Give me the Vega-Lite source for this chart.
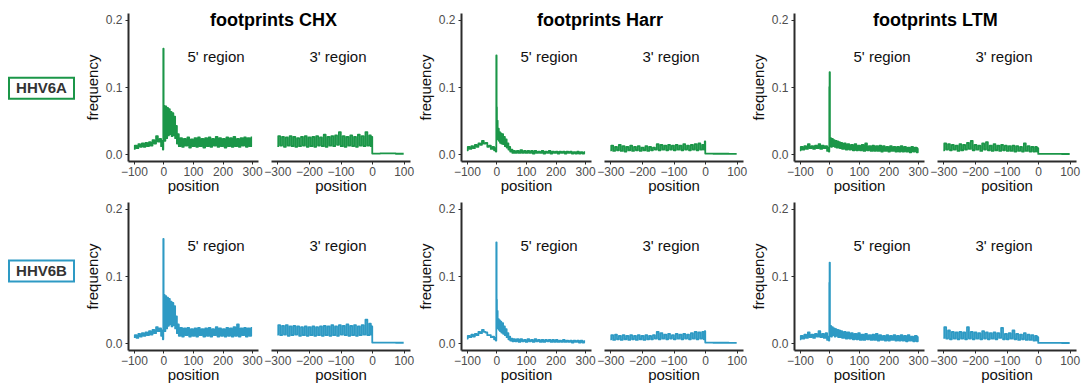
{
"$schema":"https://vega.github.io/schema/vega-lite/v6.json",
"padding":{"left":8,"top":12,"right":4,"bottom":4},
"background":"white",
"datasets":{
"aC5":[{"p":-100,"f":0.008},{"p":-94,"f":0.013},{"p":-88,"f":0.009},{"p":-82,"f":0.015},{"p":-76,"f":0.011},{"p":-70,"f":0.016},{"p":-64,"f":0.011},{"p":-58,"f":0.017},{"p":-52,"f":0.012},{"p":-46,"f":0.018},{"p":-40,"f":0.013},{"p":-34,"f":0.021},{"p":-28,"f":0.016},{"p":-22,"f":0.027},{"p":-16,"f":0.019},{"p":-10,"f":0.023},{"p":-6,"f":0.012},{"p":-3,"f":0.02},{"p":-1,"f":0.007},{"p":0,"f":0.157},{"p":1,"f":0.03},{"p":3,"f":0.072},{"p":5,"f":0.02},{"p":8,"f":0.071},{"p":11,"f":0.024},{"p":14,"f":0.069},{"p":17,"f":0.028},{"p":20,"f":0.067},{"p":23,"f":0.03},{"p":26,"f":0.063},{"p":29,"f":0.027},{"p":32,"f":0.061},{"p":35,"f":0.028},{"p":38,"f":0.056},{"p":41,"f":0.024},{"p":44,"f":0.042},{"p":47,"f":0.016},{"p":50,"f":0.03},{"p":54,"f":0.012},{"p":60,"f":0.024},{"p":66,"f":0.011},{"p":72,"f":0.023},{"p":78,"f":0.013},{"p":84,"f":0.025},{"p":90,"f":0.01},{"p":96,"f":0.022},{"p":102,"f":0.012},{"p":108,"f":0.024},{"p":114,"f":0.011},{"p":120,"f":0.025},{"p":126,"f":0.012},{"p":132,"f":0.023},{"p":138,"f":0.01},{"p":144,"f":0.024},{"p":150,"f":0.012},{"p":156,"f":0.025},{"p":162,"f":0.011},{"p":168,"f":0.023},{"p":174,"f":0.013},{"p":180,"f":0.026},{"p":186,"f":0.011},{"p":192,"f":0.024},{"p":198,"f":0.012},{"p":204,"f":0.023},{"p":210,"f":0.01},{"p":216,"f":0.025},{"p":222,"f":0.012},{"p":228,"f":0.024},{"p":234,"f":0.011},{"p":240,"f":0.026},{"p":246,"f":0.012},{"p":252,"f":0.023},{"p":258,"f":0.011},{"p":264,"f":0.024},{"p":270,"f":0.013},{"p":276,"f":0.025},{"p":282,"f":0.011},{"p":288,"f":0.024},{"p":294,"f":0.012},{"p":300,"f":0.025}],
"bC5":[{"p":-100,"f":0.009},{"p":-94,"f":0.012},{"p":-88,"f":0.008},{"p":-82,"f":0.014},{"p":-76,"f":0.01},{"p":-70,"f":0.015},{"p":-64,"f":0.011},{"p":-58,"f":0.016},{"p":-52,"f":0.012},{"p":-46,"f":0.018},{"p":-40,"f":0.013},{"p":-34,"f":0.02},{"p":-28,"f":0.015},{"p":-22,"f":0.024},{"p":-16,"f":0.018},{"p":-10,"f":0.022},{"p":-6,"f":0.011},{"p":-3,"f":0.019},{"p":-1,"f":0.006},{"p":0,"f":0.155},{"p":1,"f":0.028},{"p":3,"f":0.072},{"p":5,"f":0.018},{"p":8,"f":0.07},{"p":11,"f":0.022},{"p":14,"f":0.068},{"p":17,"f":0.026},{"p":20,"f":0.066},{"p":23,"f":0.028},{"p":26,"f":0.062},{"p":29,"f":0.025},{"p":32,"f":0.06},{"p":35,"f":0.027},{"p":38,"f":0.055},{"p":41,"f":0.022},{"p":44,"f":0.04},{"p":47,"f":0.015},{"p":50,"f":0.028},{"p":54,"f":0.011},{"p":60,"f":0.023},{"p":66,"f":0.01},{"p":72,"f":0.022},{"p":78,"f":0.012},{"p":84,"f":0.023},{"p":90,"f":0.01},{"p":96,"f":0.021},{"p":102,"f":0.011},{"p":108,"f":0.022},{"p":114,"f":0.01},{"p":120,"f":0.023},{"p":126,"f":0.012},{"p":132,"f":0.021},{"p":138,"f":0.01},{"p":144,"f":0.022},{"p":150,"f":0.011},{"p":156,"f":0.023},{"p":162,"f":0.01},{"p":168,"f":0.021},{"p":174,"f":0.012},{"p":180,"f":0.024},{"p":186,"f":0.01},{"p":192,"f":0.022},{"p":198,"f":0.011},{"p":204,"f":0.021},{"p":210,"f":0.01},{"p":216,"f":0.023},{"p":222,"f":0.011},{"p":228,"f":0.022},{"p":234,"f":0.01},{"p":240,"f":0.024},{"p":246,"f":0.011},{"p":252,"f":0.028},{"p":258,"f":0.01},{"p":264,"f":0.022},{"p":270,"f":0.012},{"p":276,"f":0.023},{"p":282,"f":0.01},{"p":288,"f":0.022},{"p":294,"f":0.011},{"p":300,"f":0.023}],
"aC3":[{"p":-300,"f":0.012},{"p":-294,"f":0.027},{"p":-288,"f":0.013},{"p":-282,"f":0.026},{"p":-276,"f":0.011},{"p":-270,"f":0.025},{"p":-264,"f":0.013},{"p":-258,"f":0.027},{"p":-252,"f":0.012},{"p":-246,"f":0.026},{"p":-240,"f":0.011},{"p":-234,"f":0.024},{"p":-228,"f":0.012},{"p":-222,"f":0.026},{"p":-216,"f":0.013},{"p":-210,"f":0.027},{"p":-204,"f":0.011},{"p":-198,"f":0.025},{"p":-192,"f":0.012},{"p":-186,"f":0.026},{"p":-180,"f":0.011},{"p":-174,"f":0.027},{"p":-168,"f":0.013},{"p":-162,"f":0.025},{"p":-156,"f":0.012},{"p":-150,"f":0.029},{"p":-144,"f":0.011},{"p":-138,"f":0.026},{"p":-132,"f":0.013},{"p":-126,"f":0.027},{"p":-120,"f":0.012},{"p":-114,"f":0.028},{"p":-108,"f":0.014},{"p":-102,"f":0.033},{"p":-96,"f":0.012},{"p":-90,"f":0.027},{"p":-84,"f":0.011},{"p":-78,"f":0.026},{"p":-72,"f":0.013},{"p":-66,"f":0.028},{"p":-60,"f":0.012},{"p":-54,"f":0.026},{"p":-48,"f":0.011},{"p":-42,"f":0.029},{"p":-36,"f":0.013},{"p":-30,"f":0.027},{"p":-24,"f":0.012},{"p":-18,"f":0.033},{"p":-12,"f":0.013},{"p":-6,"f":0.028},{"p":-2,"f":0.012},{"p":0,"f":0.026},{"p":1,"f":0.001},{"p":50,"f":0.0012},{"p":100,"f":0.0008}],
"bC3":[{"p":-300,"f":0.013},{"p":-294,"f":0.027},{"p":-288,"f":0.012},{"p":-282,"f":0.026},{"p":-276,"f":0.013},{"p":-270,"f":0.027},{"p":-264,"f":0.011},{"p":-258,"f":0.025},{"p":-252,"f":0.012},{"p":-246,"f":0.026},{"p":-240,"f":0.013},{"p":-234,"f":0.025},{"p":-228,"f":0.011},{"p":-222,"f":0.024},{"p":-216,"f":0.012},{"p":-210,"f":0.025},{"p":-204,"f":0.011},{"p":-198,"f":0.024},{"p":-192,"f":0.012},{"p":-186,"f":0.025},{"p":-180,"f":0.011},{"p":-174,"f":0.024},{"p":-168,"f":0.012},{"p":-162,"f":0.025},{"p":-156,"f":0.011},{"p":-150,"f":0.026},{"p":-144,"f":0.012},{"p":-138,"f":0.025},{"p":-132,"f":0.011},{"p":-126,"f":0.027},{"p":-120,"f":0.012},{"p":-114,"f":0.025},{"p":-108,"f":0.011},{"p":-102,"f":0.027},{"p":-96,"f":0.013},{"p":-90,"f":0.026},{"p":-84,"f":0.012},{"p":-78,"f":0.028},{"p":-72,"f":0.011},{"p":-66,"f":0.026},{"p":-60,"f":0.012},{"p":-54,"f":0.027},{"p":-48,"f":0.011},{"p":-42,"f":0.025},{"p":-36,"f":0.012},{"p":-30,"f":0.027},{"p":-24,"f":0.013},{"p":-18,"f":0.035},{"p":-12,"f":0.012},{"p":-6,"f":0.029},{"p":-2,"f":0.013},{"p":0,"f":0.025},{"p":1,"f":0.001},{"p":50,"f":0.001},{"p":100,"f":0.0008}],
"aH5":[{"p":-100,"f":0.006},{"p":-94,"f":0.011},{"p":-88,"f":0.008},{"p":-82,"f":0.012},{"p":-76,"f":0.009},{"p":-70,"f":0.014},{"p":-64,"f":0.011},{"p":-58,"f":0.016},{"p":-52,"f":0.014},{"p":-46,"f":0.02},{"p":-40,"f":0.016},{"p":-34,"f":0.017},{"p":-28,"f":0.011},{"p":-22,"f":0.013},{"p":-16,"f":0.008},{"p":-10,"f":0.011},{"p":-6,"f":0.006},{"p":-3,"f":0.009},{"p":-1,"f":0.004},{"p":0,"f":0.147},{"p":1,"f":0.07},{"p":2,"f":0.03},{"p":3,"f":0.05},{"p":5,"f":0.022},{"p":7,"f":0.038},{"p":9,"f":0.02},{"p":11,"f":0.033},{"p":13,"f":0.017},{"p":15,"f":0.031},{"p":18,"f":0.016},{"p":21,"f":0.03},{"p":24,"f":0.015},{"p":27,"f":0.026},{"p":30,"f":0.012},{"p":33,"f":0.022},{"p":36,"f":0.01},{"p":39,"f":0.016},{"p":42,"f":0.007},{"p":45,"f":0.011},{"p":48,"f":0.004},{"p":52,"f":0.007},{"p":56,"f":0.002},{"p":60,"f":0.005},{"p":66,"f":0.002},{"p":72,"f":0.005},{"p":78,"f":0.002},{"p":84,"f":0.006},{"p":90,"f":0.002},{"p":96,"f":0.005},{"p":102,"f":0.002},{"p":108,"f":0.005},{"p":114,"f":0.002},{"p":120,"f":0.005},{"p":126,"f":0.001},{"p":132,"f":0.005},{"p":138,"f":0.002},{"p":144,"f":0.004},{"p":150,"f":0.002},{"p":156,"f":0.005},{"p":162,"f":0.001},{"p":168,"f":0.004},{"p":174,"f":0.002},{"p":180,"f":0.005},{"p":186,"f":0.001},{"p":192,"f":0.004},{"p":198,"f":0.002},{"p":204,"f":0.004},{"p":210,"f":0.001},{"p":216,"f":0.004},{"p":222,"f":0.002},{"p":228,"f":0.004},{"p":234,"f":0.001},{"p":240,"f":0.004},{"p":246,"f":0.002},{"p":252,"f":0.004},{"p":258,"f":0.001},{"p":264,"f":0.003},{"p":270,"f":0.001},{"p":276,"f":0.004},{"p":282,"f":0.001},{"p":288,"f":0.003},{"p":294,"f":0.001},{"p":300,"f":0.003}],
"bH5":[{"p":-100,"f":0.007},{"p":-94,"f":0.011},{"p":-88,"f":0.009},{"p":-82,"f":0.013},{"p":-76,"f":0.01},{"p":-70,"f":0.014},{"p":-64,"f":0.012},{"p":-58,"f":0.017},{"p":-52,"f":0.015},{"p":-46,"f":0.02},{"p":-40,"f":0.017},{"p":-34,"f":0.016},{"p":-28,"f":0.012},{"p":-22,"f":0.012},{"p":-16,"f":0.009},{"p":-10,"f":0.01},{"p":-6,"f":0.006},{"p":-3,"f":0.008},{"p":-1,"f":0.004},{"p":0,"f":0.15},{"p":1,"f":0.065},{"p":2,"f":0.03},{"p":3,"f":0.048},{"p":5,"f":0.022},{"p":7,"f":0.036},{"p":9,"f":0.02},{"p":11,"f":0.034},{"p":13,"f":0.018},{"p":15,"f":0.032},{"p":18,"f":0.016},{"p":21,"f":0.03},{"p":24,"f":0.014},{"p":27,"f":0.025},{"p":30,"f":0.012},{"p":33,"f":0.021},{"p":36,"f":0.009},{"p":39,"f":0.015},{"p":42,"f":0.006},{"p":45,"f":0.01},{"p":48,"f":0.004},{"p":52,"f":0.007},{"p":56,"f":0.003},{"p":60,"f":0.006},{"p":66,"f":0.003},{"p":72,"f":0.006},{"p":78,"f":0.002},{"p":84,"f":0.006},{"p":90,"f":0.003},{"p":96,"f":0.005},{"p":102,"f":0.002},{"p":108,"f":0.006},{"p":114,"f":0.003},{"p":120,"f":0.005},{"p":126,"f":0.002},{"p":132,"f":0.006},{"p":138,"f":0.003},{"p":144,"f":0.005},{"p":150,"f":0.002},{"p":156,"f":0.005},{"p":162,"f":0.002},{"p":168,"f":0.005},{"p":174,"f":0.003},{"p":180,"f":0.005},{"p":186,"f":0.002},{"p":192,"f":0.005},{"p":198,"f":0.002},{"p":204,"f":0.005},{"p":210,"f":0.002},{"p":216,"f":0.004},{"p":222,"f":0.002},{"p":228,"f":0.005},{"p":234,"f":0.002},{"p":240,"f":0.004},{"p":246,"f":0.002},{"p":252,"f":0.004},{"p":258,"f":0.001},{"p":264,"f":0.004},{"p":270,"f":0.002},{"p":276,"f":0.004},{"p":282,"f":0.001},{"p":288,"f":0.004},{"p":294,"f":0.001},{"p":300,"f":0.003}],
"aH3":[{"p":-300,"f":0.006},{"p":-294,"f":0.013},{"p":-288,"f":0.005},{"p":-282,"f":0.011},{"p":-276,"f":0.006},{"p":-270,"f":0.014},{"p":-264,"f":0.005},{"p":-258,"f":0.012},{"p":-252,"f":0.004},{"p":-246,"f":0.011},{"p":-240,"f":0.006},{"p":-234,"f":0.013},{"p":-228,"f":0.005},{"p":-222,"f":0.011},{"p":-216,"f":0.006},{"p":-210,"f":0.012},{"p":-204,"f":0.005},{"p":-198,"f":0.01},{"p":-192,"f":0.006},{"p":-186,"f":0.012},{"p":-180,"f":0.005},{"p":-174,"f":0.011},{"p":-168,"f":0.006},{"p":-162,"f":0.01},{"p":-156,"f":0.007},{"p":-150,"f":0.015},{"p":-144,"f":0.006},{"p":-138,"f":0.014},{"p":-132,"f":0.007},{"p":-126,"f":0.013},{"p":-120,"f":0.006},{"p":-114,"f":0.014},{"p":-108,"f":0.007},{"p":-102,"f":0.013},{"p":-96,"f":0.006},{"p":-90,"f":0.014},{"p":-84,"f":0.007},{"p":-78,"f":0.013},{"p":-72,"f":0.006},{"p":-66,"f":0.015},{"p":-60,"f":0.007},{"p":-54,"f":0.013},{"p":-48,"f":0.006},{"p":-42,"f":0.014},{"p":-36,"f":0.007},{"p":-30,"f":0.015},{"p":-24,"f":0.006},{"p":-18,"f":0.016},{"p":-12,"f":0.007},{"p":-6,"f":0.014},{"p":-2,"f":0.007},{"p":0,"f":0.019},{"p":1,"f":0.001},{"p":50,"f":0.0008},{"p":100,"f":0.0005}],
"bH3":[{"p":-300,"f":0.006},{"p":-294,"f":0.012},{"p":-288,"f":0.005},{"p":-282,"f":0.013},{"p":-276,"f":0.006},{"p":-270,"f":0.011},{"p":-264,"f":0.005},{"p":-258,"f":0.012},{"p":-252,"f":0.006},{"p":-246,"f":0.011},{"p":-240,"f":0.005},{"p":-234,"f":0.012},{"p":-228,"f":0.006},{"p":-222,"f":0.011},{"p":-216,"f":0.005},{"p":-210,"f":0.012},{"p":-204,"f":0.006},{"p":-198,"f":0.011},{"p":-192,"f":0.005},{"p":-186,"f":0.012},{"p":-180,"f":0.006},{"p":-174,"f":0.011},{"p":-168,"f":0.006},{"p":-162,"f":0.012},{"p":-156,"f":0.007},{"p":-150,"f":0.017},{"p":-144,"f":0.006},{"p":-138,"f":0.015},{"p":-132,"f":0.007},{"p":-126,"f":0.013},{"p":-120,"f":0.006},{"p":-114,"f":0.014},{"p":-108,"f":0.007},{"p":-102,"f":0.012},{"p":-96,"f":0.006},{"p":-90,"f":0.014},{"p":-84,"f":0.007},{"p":-78,"f":0.013},{"p":-72,"f":0.006},{"p":-66,"f":0.014},{"p":-60,"f":0.007},{"p":-54,"f":0.013},{"p":-48,"f":0.006},{"p":-42,"f":0.015},{"p":-36,"f":0.007},{"p":-30,"f":0.017},{"p":-24,"f":0.006},{"p":-18,"f":0.016},{"p":-12,"f":0.007},{"p":-6,"f":0.017},{"p":-2,"f":0.006},{"p":0,"f":0.018},{"p":1,"f":0.001},{"p":50,"f":0.0008},{"p":100,"f":0.0005}],
"aL5":[{"p":-100,"f":0.006},{"p":-94,"f":0.011},{"p":-88,"f":0.007},{"p":-82,"f":0.012},{"p":-76,"f":0.008},{"p":-70,"f":0.015},{"p":-64,"f":0.009},{"p":-58,"f":0.012},{"p":-52,"f":0.008},{"p":-46,"f":0.013},{"p":-40,"f":0.009},{"p":-34,"f":0.015},{"p":-28,"f":0.008},{"p":-22,"f":0.013},{"p":-16,"f":0.009},{"p":-10,"f":0.012},{"p":-6,"f":0.005},{"p":-3,"f":0.01},{"p":-1,"f":0.004},{"p":0,"f":0.1},{"p":1,"f":0.122},{"p":2,"f":0.02},{"p":4,"f":0.024},{"p":7,"f":0.011},{"p":10,"f":0.023},{"p":13,"f":0.012},{"p":16,"f":0.021},{"p":19,"f":0.011},{"p":22,"f":0.02},{"p":25,"f":0.01},{"p":28,"f":0.019},{"p":31,"f":0.01},{"p":34,"f":0.018},{"p":37,"f":0.009},{"p":40,"f":0.017},{"p":46,"f":0.008},{"p":52,"f":0.016},{"p":58,"f":0.007},{"p":64,"f":0.015},{"p":70,"f":0.007},{"p":76,"f":0.014},{"p":82,"f":0.006},{"p":88,"f":0.015},{"p":94,"f":0.006},{"p":100,"f":0.013},{"p":106,"f":0.006},{"p":112,"f":0.014},{"p":118,"f":0.005},{"p":124,"f":0.016},{"p":130,"f":0.006},{"p":136,"f":0.012},{"p":142,"f":0.005},{"p":148,"f":0.013},{"p":154,"f":0.005},{"p":160,"f":0.012},{"p":166,"f":0.005},{"p":172,"f":0.013},{"p":178,"f":0.004},{"p":184,"f":0.012},{"p":190,"f":0.005},{"p":196,"f":0.011},{"p":202,"f":0.004},{"p":208,"f":0.012},{"p":214,"f":0.005},{"p":220,"f":0.011},{"p":226,"f":0.004},{"p":232,"f":0.011},{"p":238,"f":0.004},{"p":244,"f":0.012},{"p":250,"f":0.004},{"p":256,"f":0.011},{"p":262,"f":0.004},{"p":268,"f":0.01},{"p":274,"f":0.003},{"p":280,"f":0.011},{"p":286,"f":0.004},{"p":292,"f":0.01},{"p":298,"f":0.003},{"p":300,"f":0.009}],
"bL5":[{"p":-100,"f":0.006},{"p":-94,"f":0.011},{"p":-88,"f":0.007},{"p":-82,"f":0.013},{"p":-76,"f":0.008},{"p":-70,"f":0.016},{"p":-64,"f":0.009},{"p":-58,"f":0.013},{"p":-52,"f":0.008},{"p":-46,"f":0.014},{"p":-40,"f":0.01},{"p":-34,"f":0.018},{"p":-28,"f":0.009},{"p":-22,"f":0.014},{"p":-16,"f":0.008},{"p":-10,"f":0.015},{"p":-6,"f":0.005},{"p":-3,"f":0.01},{"p":-1,"f":0.004},{"p":0,"f":0.09},{"p":1,"f":0.12},{"p":2,"f":0.02},{"p":4,"f":0.026},{"p":7,"f":0.01},{"p":10,"f":0.024},{"p":13,"f":0.012},{"p":16,"f":0.022},{"p":19,"f":0.01},{"p":22,"f":0.021},{"p":25,"f":0.011},{"p":28,"f":0.02},{"p":31,"f":0.009},{"p":34,"f":0.019},{"p":37,"f":0.009},{"p":40,"f":0.018},{"p":46,"f":0.008},{"p":52,"f":0.017},{"p":58,"f":0.007},{"p":64,"f":0.016},{"p":70,"f":0.007},{"p":76,"f":0.015},{"p":82,"f":0.006},{"p":88,"f":0.014},{"p":94,"f":0.006},{"p":100,"f":0.015},{"p":106,"f":0.005},{"p":112,"f":0.013},{"p":118,"f":0.005},{"p":124,"f":0.014},{"p":130,"f":0.006},{"p":136,"f":0.012},{"p":142,"f":0.005},{"p":148,"f":0.013},{"p":154,"f":0.005},{"p":160,"f":0.014},{"p":166,"f":0.004},{"p":172,"f":0.012},{"p":178,"f":0.005},{"p":184,"f":0.011},{"p":190,"f":0.004},{"p":196,"f":0.012},{"p":202,"f":0.004},{"p":208,"f":0.011},{"p":214,"f":0.005},{"p":220,"f":0.012},{"p":226,"f":0.004},{"p":232,"f":0.011},{"p":238,"f":0.004},{"p":244,"f":0.012},{"p":250,"f":0.004},{"p":256,"f":0.011},{"p":262,"f":0.003},{"p":268,"f":0.012},{"p":274,"f":0.004},{"p":280,"f":0.01},{"p":286,"f":0.003},{"p":292,"f":0.011},{"p":298,"f":0.003},{"p":300,"f":0.01}],
"aL3":[{"p":-300,"f":0.006},{"p":-294,"f":0.016},{"p":-288,"f":0.007},{"p":-282,"f":0.015},{"p":-276,"f":0.006},{"p":-270,"f":0.014},{"p":-264,"f":0.007},{"p":-258,"f":0.013},{"p":-252,"f":0.005},{"p":-246,"f":0.015},{"p":-240,"f":0.006},{"p":-234,"f":0.014},{"p":-228,"f":0.007},{"p":-222,"f":0.017},{"p":-216,"f":0.008},{"p":-210,"f":0.02},{"p":-204,"f":0.006},{"p":-198,"f":0.014},{"p":-192,"f":0.007},{"p":-186,"f":0.013},{"p":-180,"f":0.005},{"p":-174,"f":0.016},{"p":-168,"f":0.007},{"p":-162,"f":0.018},{"p":-156,"f":0.006},{"p":-150,"f":0.013},{"p":-144,"f":0.005},{"p":-138,"f":0.015},{"p":-132,"f":0.006},{"p":-126,"f":0.013},{"p":-120,"f":0.005},{"p":-114,"f":0.014},{"p":-108,"f":0.006},{"p":-102,"f":0.013},{"p":-96,"f":0.005},{"p":-90,"f":0.012},{"p":-84,"f":0.005},{"p":-78,"f":0.013},{"p":-72,"f":0.004},{"p":-66,"f":0.012},{"p":-60,"f":0.005},{"p":-54,"f":0.011},{"p":-48,"f":0.004},{"p":-42,"f":0.016},{"p":-36,"f":0.005},{"p":-30,"f":0.012},{"p":-24,"f":0.004},{"p":-18,"f":0.011},{"p":-12,"f":0.004},{"p":-6,"f":0.011},{"p":-2,"f":0.004},{"p":0,"f":0.009},{"p":1,"f":0.0005},{"p":50,"f":0.0005},{"p":100,"f":0.0004}],
"bL3":[{"p":-300,"f":0.008},{"p":-294,"f":0.024},{"p":-288,"f":0.007},{"p":-282,"f":0.019},{"p":-276,"f":0.006},{"p":-270,"f":0.017},{"p":-264,"f":0.007},{"p":-258,"f":0.016},{"p":-252,"f":0.006},{"p":-246,"f":0.017},{"p":-240,"f":0.007},{"p":-234,"f":0.016},{"p":-228,"f":0.006},{"p":-222,"f":0.024},{"p":-216,"f":0.007},{"p":-210,"f":0.017},{"p":-204,"f":0.006},{"p":-198,"f":0.016},{"p":-192,"f":0.007},{"p":-186,"f":0.015},{"p":-180,"f":0.006},{"p":-174,"f":0.018},{"p":-168,"f":0.007},{"p":-162,"f":0.016},{"p":-156,"f":0.006},{"p":-150,"f":0.015},{"p":-144,"f":0.007},{"p":-138,"f":0.016},{"p":-132,"f":0.006},{"p":-126,"f":0.015},{"p":-120,"f":0.008},{"p":-114,"f":0.023},{"p":-108,"f":0.006},{"p":-102,"f":0.014},{"p":-96,"f":0.006},{"p":-90,"f":0.015},{"p":-84,"f":0.007},{"p":-78,"f":0.019},{"p":-72,"f":0.006},{"p":-66,"f":0.014},{"p":-60,"f":0.005},{"p":-54,"f":0.013},{"p":-48,"f":0.006},{"p":-42,"f":0.015},{"p":-36,"f":0.005},{"p":-30,"f":0.013},{"p":-24,"f":0.005},{"p":-18,"f":0.012},{"p":-12,"f":0.004},{"p":-6,"f":0.011},{"p":-2,"f":0.004},{"p":0,"f":0.009},{"p":1,"f":0.0005},{"p":50,"f":0.0005},{"p":100,"f":0.0004}]
},
"columns":10,
"bounds":"flush",
"align":"each",
"spacing":{"row":41,"column":13},
"concat":[
{"width":65,"height":148,"data":{"values":[{"t":"HHV6A"}]},"encoding":{"y":{"field":"t","type":"nominal","scale":{"paddingInner":0.669,"paddingOuter":1,"align":0.51},"axis":null}},
 "layer":[{"mark":{"type":"rect","fill":"white","stroke":"#1b9648","strokeWidth":2}},{"mark":{"type":"text","fontSize":15,"fontWeight":"bold","color":"#333333"},"encoding":{"text":{"field":"t"}}}]},
{"width":28,"height":21,"data":{"values":[{"t":""}]},"mark":"text","encoding":{"text":{"field":"t"}}},
{"width":130,"height":148,"title":{"text":"footprints CHX","anchor":"start","frame":"group","dx":82,"dy":13,"offset":-18,"baseline":"alphabetic","fontSize":18,"fontWeight":"bold","color":"#000000"},
 "encoding":{"x":{"field":"p","type":"quantitative","scale":{"domain":[-120,320],"nice":false,"zero":false},"axis":{"values":[-100,0,100,200,300],"title":"position"}},"y":{"field":"f","type":"quantitative","scale":{"domain":[-0.01,0.21],"nice":false,"zero":false},"axis":{"values":[0,0.1,0.2],"format":".1f","title":"frequency"}}},
 "layer":[{"data":{"name":"aC5"},"mark":{"type":"line","color":"#1b9648"}},{"data":{"values":[{"p":178,"f":0.144,"t":"5' region"}]},"mark":"text","encoding":{"text":{"field":"t"}}}]},
{"width":139,"height":148,
 "encoding":{"x":{"field":"p","type":"quantitative","scale":{"domain":[-320,120],"nice":false,"zero":false},"axis":{"values":[-300,-200,-100,0,100],"title":"position"}},"y":{"field":"f","type":"quantitative","scale":{"domain":[-0.01,0.21],"nice":false,"zero":false},"axis":null}},
 "layer":[{"data":{"name":"aC3"},"mark":{"type":"line","color":"#1b9648"}},{"data":{"values":[{"p":-108,"f":0.144,"t":"3' region"}]},"mark":"text","encoding":{"text":{"field":"t"}}}]},
{"width":25,"height":21,"data":{"values":[{"t":""}]},"mark":"text","encoding":{"text":{"field":"t"}}},
{"width":130,"height":148,"title":{"text":"footprints Harr","anchor":"start","frame":"group","dx":76,"dy":13,"offset":-18,"baseline":"alphabetic","fontSize":18,"fontWeight":"bold","color":"#000000"},
 "encoding":{"x":{"field":"p","type":"quantitative","scale":{"domain":[-120,320],"nice":false,"zero":false},"axis":{"values":[-100,0,100,200,300],"title":"position"}},"y":{"field":"f","type":"quantitative","scale":{"domain":[-0.01,0.21],"nice":false,"zero":false},"axis":{"values":[0,0.1,0.2],"format":".1f","title":"frequency"}}},
 "layer":[{"data":{"name":"aH5"},"mark":{"type":"line","color":"#1b9648"}},{"data":{"values":[{"p":178,"f":0.144,"t":"5' region"}]},"mark":"text","encoding":{"text":{"field":"t"}}}]},
{"width":139,"height":148,
 "encoding":{"x":{"field":"p","type":"quantitative","scale":{"domain":[-320,120],"nice":false,"zero":false},"axis":{"values":[-300,-200,-100,0,100],"title":"position"}},"y":{"field":"f","type":"quantitative","scale":{"domain":[-0.01,0.21],"nice":false,"zero":false},"axis":null}},
 "layer":[{"data":{"name":"aH3"},"mark":{"type":"line","color":"#1b9648"}},{"data":{"values":[{"p":-108,"f":0.144,"t":"3' region"}]},"mark":"text","encoding":{"text":{"field":"t"}}}]},
{"width":25,"height":21,"data":{"values":[{"t":""}]},"mark":"text","encoding":{"text":{"field":"t"}}},
{"width":130,"height":148,"title":{"text":"footprints LTM","anchor":"start","frame":"group","dx":79,"dy":13,"offset":-18,"baseline":"alphabetic","fontSize":18,"fontWeight":"bold","color":"#000000"},
 "encoding":{"x":{"field":"p","type":"quantitative","scale":{"domain":[-120,320],"nice":false,"zero":false},"axis":{"values":[-100,0,100,200,300],"title":"position"}},"y":{"field":"f","type":"quantitative","scale":{"domain":[-0.01,0.21],"nice":false,"zero":false},"axis":{"values":[0,0.1,0.2],"format":".1f","title":"frequency"}}},
 "layer":[{"data":{"name":"aL5"},"mark":{"type":"line","color":"#1b9648"}},{"data":{"values":[{"p":178,"f":0.144,"t":"5' region"}]},"mark":"text","encoding":{"text":{"field":"t"}}}]},
{"width":139,"height":148,
 "encoding":{"x":{"field":"p","type":"quantitative","scale":{"domain":[-320,120],"nice":false,"zero":false},"axis":{"values":[-300,-200,-100,0,100],"title":"position"}},"y":{"field":"f","type":"quantitative","scale":{"domain":[-0.01,0.21],"nice":false,"zero":false},"axis":null}},
 "layer":[{"data":{"name":"aL3"},"mark":{"type":"line","color":"#1b9648"}},{"data":{"values":[{"p":-108,"f":0.144,"t":"3' region"}]},"mark":"text","encoding":{"text":{"field":"t"}}}]},
{"width":65,"height":148,"data":{"values":[{"t":"HHV6B"}]},"encoding":{"y":{"field":"t","type":"nominal","scale":{"paddingInner":0.669,"paddingOuter":1,"align":0.46},"axis":null}},
 "layer":[{"mark":{"type":"rect","fill":"white","stroke":"#2e9ac4","strokeWidth":2}},{"mark":{"type":"text","fontSize":15,"fontWeight":"bold","color":"#333333"},"encoding":{"text":{"field":"t"}}}]},
{"width":28,"height":21,"data":{"values":[{"t":""}]},"mark":"text","encoding":{"text":{"field":"t"}}},
{"width":130,"height":148,
 "encoding":{"x":{"field":"p","type":"quantitative","scale":{"domain":[-120,320],"nice":false,"zero":false},"axis":{"values":[-100,0,100,200,300],"title":"position"}},"y":{"field":"f","type":"quantitative","scale":{"domain":[-0.01,0.21],"nice":false,"zero":false},"axis":{"values":[0,0.1,0.2],"format":".1f","title":"frequency"}}},
 "layer":[{"data":{"name":"bC5"},"mark":{"type":"line","color":"#2e9ac4"}},{"data":{"values":[{"p":178,"f":0.144,"t":"5' region"}]},"mark":"text","encoding":{"text":{"field":"t"}}}]},
{"width":139,"height":148,
 "encoding":{"x":{"field":"p","type":"quantitative","scale":{"domain":[-320,120],"nice":false,"zero":false},"axis":{"values":[-300,-200,-100,0,100],"title":"position"}},"y":{"field":"f","type":"quantitative","scale":{"domain":[-0.01,0.21],"nice":false,"zero":false},"axis":null}},
 "layer":[{"data":{"name":"bC3"},"mark":{"type":"line","color":"#2e9ac4"}},{"data":{"values":[{"p":-108,"f":0.144,"t":"3' region"}]},"mark":"text","encoding":{"text":{"field":"t"}}}]},
{"width":25,"height":21,"data":{"values":[{"t":""}]},"mark":"text","encoding":{"text":{"field":"t"}}},
{"width":130,"height":148,
 "encoding":{"x":{"field":"p","type":"quantitative","scale":{"domain":[-120,320],"nice":false,"zero":false},"axis":{"values":[-100,0,100,200,300],"title":"position"}},"y":{"field":"f","type":"quantitative","scale":{"domain":[-0.01,0.21],"nice":false,"zero":false},"axis":{"values":[0,0.1,0.2],"format":".1f","title":"frequency"}}},
 "layer":[{"data":{"name":"bH5"},"mark":{"type":"line","color":"#2e9ac4"}},{"data":{"values":[{"p":178,"f":0.144,"t":"5' region"}]},"mark":"text","encoding":{"text":{"field":"t"}}}]},
{"width":139,"height":148,
 "encoding":{"x":{"field":"p","type":"quantitative","scale":{"domain":[-320,120],"nice":false,"zero":false},"axis":{"values":[-300,-200,-100,0,100],"title":"position"}},"y":{"field":"f","type":"quantitative","scale":{"domain":[-0.01,0.21],"nice":false,"zero":false},"axis":null}},
 "layer":[{"data":{"name":"bH3"},"mark":{"type":"line","color":"#2e9ac4"}},{"data":{"values":[{"p":-108,"f":0.144,"t":"3' region"}]},"mark":"text","encoding":{"text":{"field":"t"}}}]},
{"width":25,"height":21,"data":{"values":[{"t":""}]},"mark":"text","encoding":{"text":{"field":"t"}}},
{"width":130,"height":148,
 "encoding":{"x":{"field":"p","type":"quantitative","scale":{"domain":[-120,320],"nice":false,"zero":false},"axis":{"values":[-100,0,100,200,300],"title":"position"}},"y":{"field":"f","type":"quantitative","scale":{"domain":[-0.01,0.21],"nice":false,"zero":false},"axis":{"values":[0,0.1,0.2],"format":".1f","title":"frequency"}}},
 "layer":[{"data":{"name":"bL5"},"mark":{"type":"line","color":"#2e9ac4"}},{"data":{"values":[{"p":178,"f":0.144,"t":"5' region"}]},"mark":"text","encoding":{"text":{"field":"t"}}}]},
{"width":139,"height":148,
 "encoding":{"x":{"field":"p","type":"quantitative","scale":{"domain":[-320,120],"nice":false,"zero":false},"axis":{"values":[-300,-200,-100,0,100],"title":"position"}},"y":{"field":"f","type":"quantitative","scale":{"domain":[-0.01,0.21],"nice":false,"zero":false},"axis":null}},
 "layer":[{"data":{"name":"bL3"},"mark":{"type":"line","color":"#2e9ac4"}},{"data":{"values":[{"p":-108,"f":0.144,"t":"3' region"}]},"mark":"text","encoding":{"text":{"field":"t"}}}]}
],
"config":{
 "view":{"stroke":null},
 "font":"Liberation Sans",
 "axis":{"grid":false,"domainColor":"#2b2b2b","domainWidth":2,"tickColor":"#2b2b2b","tickWidth":1,"tickSize":3,"labelColor":"#4d4d4d","labelFontSize":12,"labelPadding":2,"labelOverlap":false,"titleFontSize":15,"titleFontWeight":"normal","titleColor":"#111111"},
 "axisX":{"titlePadding":1},
 "axisY":{"titlePadding":5,"labelPadding":3},
 "line":{"strokeWidth":1.8,"strokeJoin":"round","interpolate":"step"},
 "text":{"fontSize":15,"color":"#111111"}
}
}
